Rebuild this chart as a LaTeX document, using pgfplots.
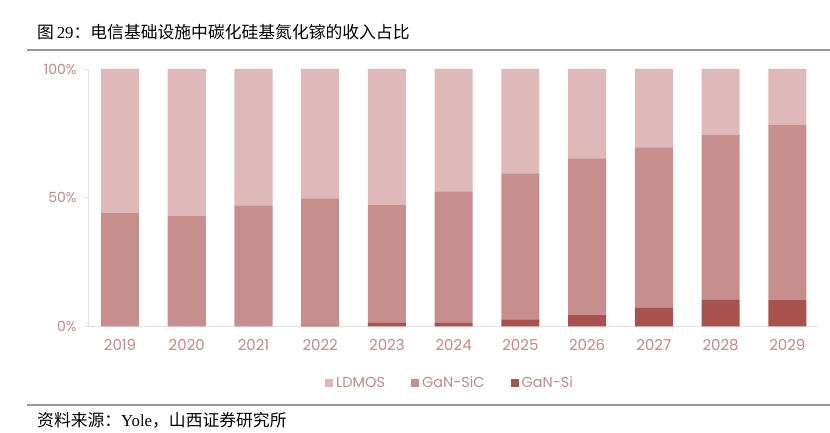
\documentclass[border=0pt]{standalone}
\usepackage{fontspec}
\setmainfont{Poppins}
\newfontfamily\cjk{Noto Sans CJK SC}
\newfontfamily\tnr{Liberation Serif}
\usepackage{pgfplots}
\pgfplotsset{compat=1.18}

\definecolor{ldmos}{HTML}{DFB9B9}
\definecolor{gansic}{HTML}{C68E8C}
\definecolor{gansi}{HTML}{A8524F}
\definecolor{lbl}{HTML}{BC8A89}
\definecolor{axln}{HTML}{E6E2E2}

\begin{document}
\begin{tikzpicture}
\useasboundingbox (0pt,0pt) rectangle (830pt,433pt);
% title and rules
\node[anchor=west,inner sep=0pt] at (37pt,401pt) {\fontsize{16.8}{17}\selectfont\cjk 图\,{\tnr 29}：电信基础设施中碳化硅基氮化镓的收入占比};
\draw[line width=1.8pt,color=black!40] (27pt,383pt) -- (830pt,383pt);
\draw[line width=1.2pt,color=black!40] (27pt,28pt) -- (830pt,28pt);
\node[anchor=west,inner sep=0pt] at (37pt,13pt) {\fontsize{16.8}{17}\selectfont\cjk 资料来源：{\tnr Yole}，山西证券研究所};

\begin{axis}[
    at={(88pt,106.5pt)}, anchor=south west,
    scale only axis,
    width=730pt, height=257.5pt,
    ybar stacked,
    bar width=0.57,
    ymin=0, ymax=100,
    xmin=-0.48, xmax=10.46,
    axis x line*=bottom, axis y line*=left,
    axis line style={color=axln, line width=0.8pt},
    ytick={0,50,100},
    yticklabels={0\%,50\%,100\%},
    xtick={0,...,10},
    xticklabels={2019,2020,2021,2022,2023,2024,2025,2026,2027,2028,2029},
    x tick style={draw=none},
    y tick style={color=axln, line width=0.8pt},
    tick align=outside,
    major tick length=4pt,
    yticklabel style={font=\fontsize{14}{14}\selectfont, color=lbl, xshift=-4pt},
    xticklabel style={font=\fontsize{15}{15}\selectfont, color=lbl, yshift=-5pt},
    legend style={at={(0.496,-0.22)}, anchor=center, draw=none, fill=none,
        legend columns=-1, font=\fontsize{14.5}{15}\selectfont\color{lbl},
        /tikz/every odd column/.append style={column sep=1pt},
        /tikz/every even column/.append style={column sep=24pt}},
    legend image code/.code={\fill[#1] (0pt,-4pt) rectangle (8pt,4pt);},
    reverse legend,
    ]
\addplot+[fill=gansi, draw=none] coordinates {
  (0,0) (1,0) (2,0) (3,0.4) (4,1.4) (5,1.4) (6,2.8) (7,4.6) (8,7.2) (9,10.3) (10,10.4)};
\addplot+[fill=gansic, draw=none] coordinates {
  (0,44.2) (1,43.1) (2,47.0) (3,49.4) (4,45.7) (5,51.1) (6,56.7) (7,60.7) (8,62.4) (9,64.1) (10,67.9)};
\addplot+[fill=ldmos, draw=none] coordinates {
  (0,55.8) (1,56.9) (2,53.0) (3,50.2) (4,52.9) (5,47.5) (6,40.5) (7,34.7) (8,30.4) (9,25.6) (10,21.7)};
\legend{GaN-Si, GaN-SiC, LDMOS}
\end{axis}
\end{tikzpicture}
\end{document}
